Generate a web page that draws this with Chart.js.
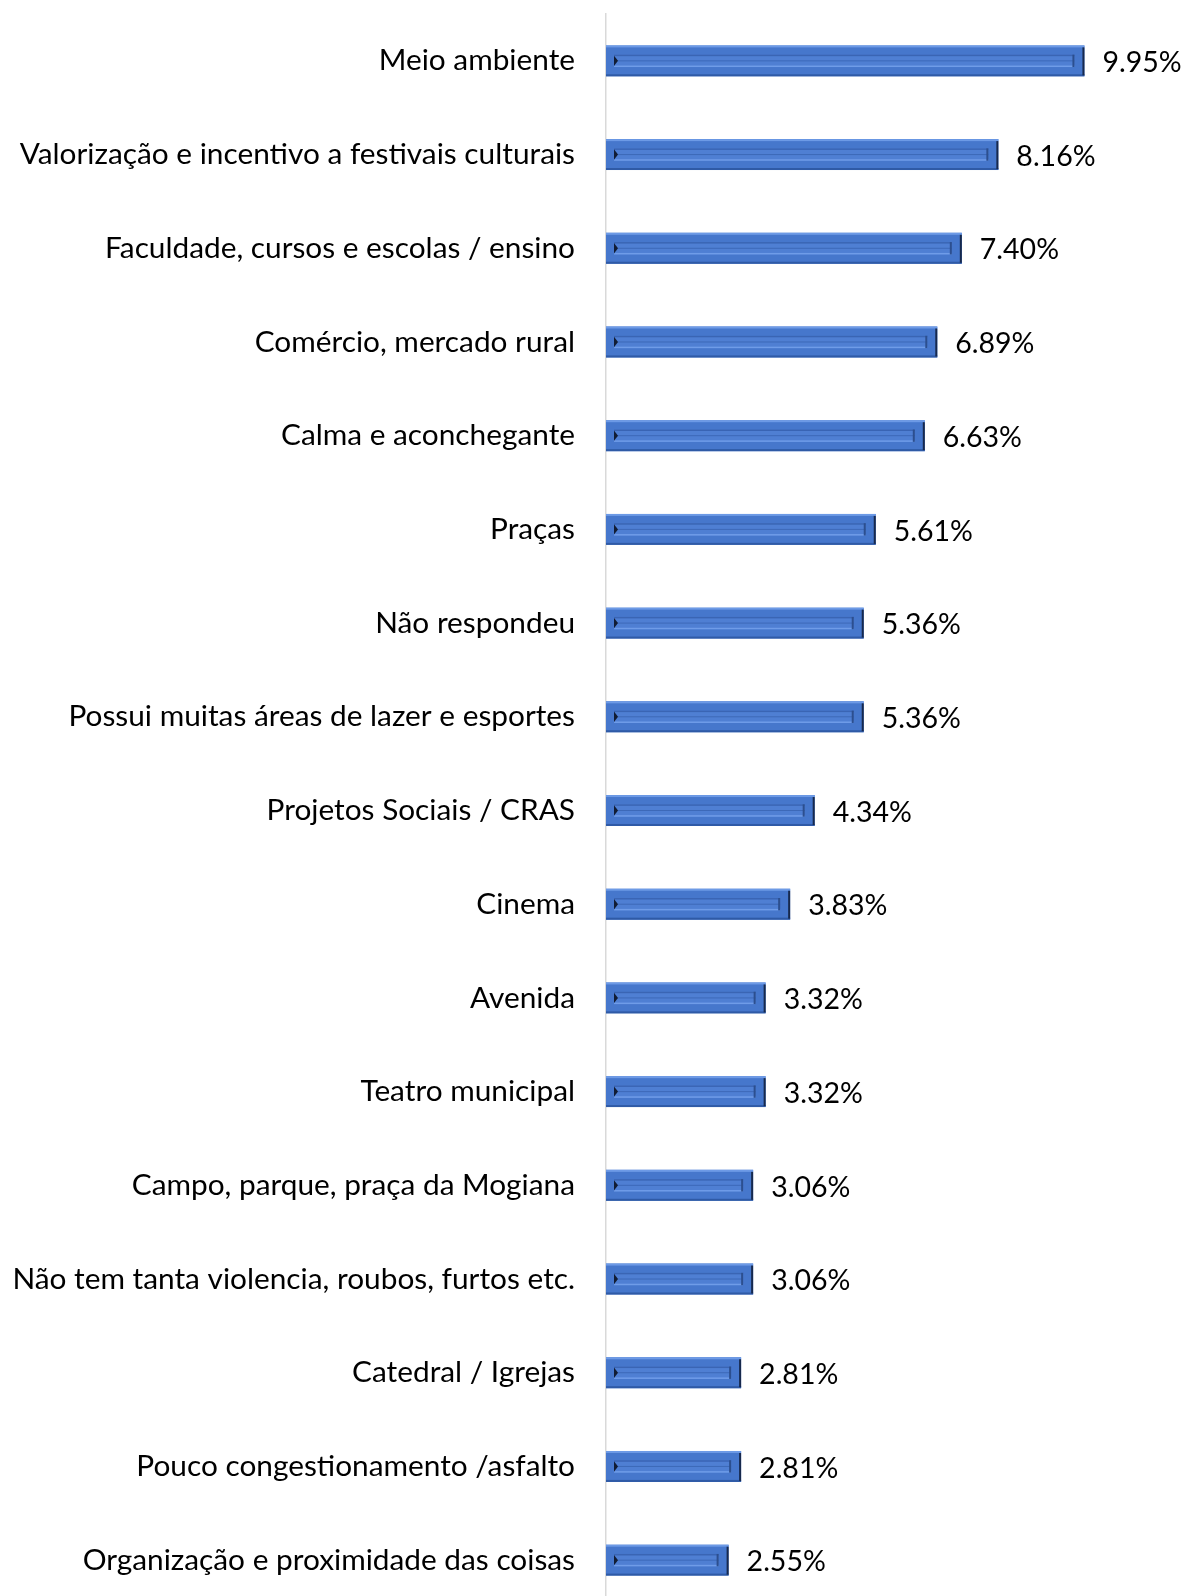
<!DOCTYPE html>
<html>
<head>
<meta charset="utf-8">
<script src="https://cdn.jsdelivr.net/npm/chart.js@4/dist/chart.umd.min.js"></script>
<style>
  html, body { margin: 0; padding: 0; background: #fff; overflow: hidden; }
  #wrap { position: relative; width: 1187px; height: 1610px; }
</style>
</head>
<body>
<div id="wrap"><canvas id="chart"></canvas></div>
<script>
// chart data
const categories = [
    'Meio ambiente',
    'Valorização e incentivo a festivais culturais',
    'Faculdade, cursos e escolas / ensino',
    'Comércio, mercado rural',
    'Calma e aconchegante',
    'Praças',
    'Não respondeu',
    'Possui muitas áreas de lazer e esportes',
    'Projetos Sociais / CRAS',
    'Cinema',
    'Avenida',
    'Teatro municipal',
    'Campo, parque, praça da Mogiana',
    'Não tem tanta violencia, roubos, furtos etc.',
    'Catedral / Igrejas',
    'Pouco congestionamento /asfalto',
    'Organização e proximidade das coisas'
];
const percentages = [9.95, 8.16, 7.40, 6.89, 6.63, 5.61, 5.36, 5.36, 4.34, 3.83, 3.32, 3.32, 3.06, 3.06, 2.81, 2.81, 2.55];

const FONT = 'Lato, "Open Sans", sans-serif';

// bevel look on each bar
const bevelPlugin = {
    id: 'bevel',
    afterDatasetsDraw(chart) {
        const ctx = chart.ctx;
        const meta = chart.getDatasetMeta(0);
        ctx.save();
        meta.data.forEach(bar => {
            const x0 = Math.min(bar.base, bar.x);
            const x1 = Math.max(bar.base, bar.x);
            const y0 = bar.y - bar.height / 2;
            const y1 = bar.y + bar.height / 2;
            const h = y1 - y0;
            // outer edges
            ctx.fillStyle = '#6d9ae6';
            ctx.fillRect(x0, y0, x1 - x0, 2);
            ctx.fillStyle = '#2f5aa6';
            ctx.fillRect(x0, y1 - 2, x1 - x0, 2);
            // inner panel
            const iy0 = y0 + h * 0.3;
            const iy1 = y1 - h * 0.3;
            const ix0 = x0 + 8;
            const ix1 = x1 - 10;
            ctx.fillStyle = '#4f7fd3';
            ctx.fillRect(ix0, iy0, ix1 - ix0, iy1 - iy0);
            ctx.fillStyle = '#3a65b4';
            ctx.fillRect(ix0, iy0, ix1 - ix0, 1.5);
            ctx.fillStyle = '#6f9ce8';
            ctx.fillRect(ix0, iy1 - 1.5, ix1 - ix0, 1.5);
            ctx.fillStyle = '#3d69b8';
            ctx.fillRect(ix0, bar.y - 0.5, ix1 - ix0, 1);
            // right end shadow
            ctx.fillStyle = '#2c4f8f';
            ctx.fillRect(ix1 - 2, iy0, 2, iy1 - iy0);
            ctx.fillStyle = '#17294d';
            ctx.fillRect(x1 - 2, y0 + 2, 2, h - 3);
            // left marker
            ctx.fillStyle = '#111c33';
            ctx.beginPath();
            ctx.moveTo(ix0, iy0 + 1);
            ctx.lineTo(ix0 + 4, bar.y);
            ctx.lineTo(ix0, iy1 - 1);
            ctx.closePath();
            ctx.fill();
        });
        ctx.restore();
    }
};

// value labels after bar ends
const valueLabels = {
    id: 'valueLabels',
    afterDatasetsDraw(chart) {
        const ctx = chart.ctx;
        const meta = chart.getDatasetMeta(0);
        ctx.save();
        ctx.font = '28.5px ' + FONT;
        ctx.fillStyle = '#000';
        ctx.textAlign = 'left';
        ctx.textBaseline = 'middle';
        meta.data.forEach((bar, i) => {
            ctx.fillText(percentages[i].toFixed(2) + '%', bar.x + 18, bar.y + 2);
        });
        ctx.restore();
    }
};

const ctx = document.getElementById('chart').getContext('2d');
new Chart(ctx, {
    type: 'bar',
    data: {
        labels: categories,
        datasets: [{
            data: percentages,
            backgroundColor: '#4677cc',
            borderWidth: 0,
            barPercentage: 0.33,
            categoryPercentage: 1
        }]
    },
    options: {
        indexAxis: 'y',
        responsive: true,
        maintainAspectRatio: false,
        animation: false,
        layout: { padding: { top: 14, bottom: 3, left: 0, right: 4 } },
        plugins: {
            legend: { display: false },
            tooltip: { enabled: false }
        },
        scales: {
            x: {
                display: false,
                min: 0,
                max: 12
            },
            y: {
                afterFit(scale) {
                    scale.width = 606;
                    scale.paddingTop = 0;
                    scale.paddingBottom = 0;
                },
                grid: { display: true, drawOnChartArea: false, drawTicks: false },
                border: { display: true, color: '#d9d9d9', width: 1.5 },
                ticks: {
                    color: '#000',
                    padding: 31,
                    font: { family: FONT, size: 29.8 }
                }
            }
        }
    },
    plugins: [bevelPlugin, valueLabels]
});
</script>
</body>
</html>
